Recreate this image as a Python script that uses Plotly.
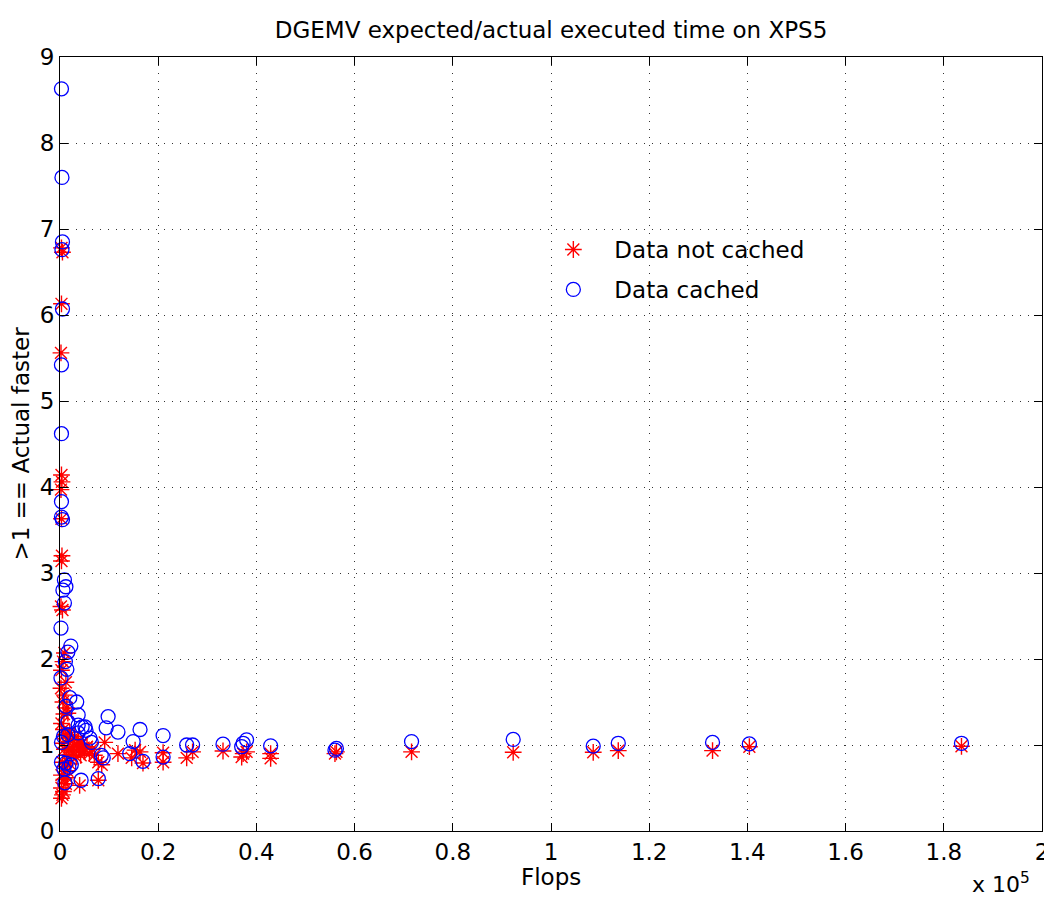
import plotly.graph_objects as go

# Data not cached (red stars): flops, ratio
nc_x = [300, 500, 300, 200, 300, 400, 200, 300, 400, 300, 200, 500,
        900, 600, 300, 1200, 200, 900, 600, 1400, 1600, 800,
        300, 700, 1100, 1500, 2000, 2500, 3000, 3500, 4000, 4500, 5000, 5500, 6000,
        1800, 2200, 2800, 3300, 600, 900, 1300, 2600, 3800, 4200, 4800, 6500, 7000,
        500, 1000, 1500, 2000, 300, 800, 1200, 300, 700, 500, 300, 1500,
        9100, 7800, 7800, 4000, 8500,
        11800, 14600, 15300, 16300, 16900, 21000, 21000, 25800, 27000, 33200,
        37000, 37300, 38000, 42900, 42900, 56000, 56300, 71600, 92300, 108600,
        113700, 132900, 140400, 183600]
nc_y = [6.78, 6.73, 6.13, 5.56, 4.14, 4.06, 3.97, 3.63, 3.20, 3.14, 2.61, 2.57,
        2.07, 1.97, 1.87, 1.73, 1.66, 1.58, 1.50, 1.43, 1.37, 1.36,
        1.25, 1.18, 1.12, 1.08, 1.15, 1.05, 1.10, 1.00, 0.95, 1.02, 0.92, 0.98, 0.90,
        0.95, 0.88, 0.92, 0.86, 1.02, 0.95, 0.88, 0.98, 1.06, 0.88, 0.97, 0.95, 0.88,
        0.80, 0.75, 0.70, 0.78, 0.65, 0.60, 0.55, 0.50, 0.46, 0.42, 0.38, 0.62,
        1.03, 0.80, 0.59, 0.53, 0.77,
        0.90, 0.85, 0.94, 0.92, 0.79, 0.91, 0.80, 0.85, 0.92, 0.93,
        0.86, 0.90, 0.92, 0.90, 0.845, 0.90, 0.92, 0.92, 0.915, 0.915,
        0.935, 0.935, 0.98, 0.985]

# Data cached (blue circles): flops, ratio
c_x = [300, 400, 500, 400, 500, 300, 300, 300, 300, 500, 900, 1200, 600, 900, 200,
       2200, 1600, 1100, 1400, 200, 2000, 3400, 1200, 3700, 9800, 9400, 5100, 5300,
       3700, 3700, 1600, 1600, 700, 6400, 6100, 4500,
       300, 1200, 2300, 800, 1800, 300, 1000, 4300, 8400, 8800, 7800,
       11800, 16300, 14900, 14200, 16900, 21000, 21000, 25800, 27000, 33200,
       37000, 37300, 38000, 42900, 56000, 56300, 71600, 92300, 108600, 113700,
       132900, 140400, 183600]
c_y = [8.63, 7.60, 6.85, 6.76, 6.07, 5.42, 4.62, 3.83, 3.65, 3.62, 2.92, 2.84, 2.80, 2.65, 2.36,
       2.15, 2.08, 1.97, 1.88, 1.78, 1.55, 1.50, 1.45, 1.35, 1.33, 1.20, 1.21, 1.17,
       1.23, 1.14, 1.27, 1.12, 1.10, 1.03, 1.08, 1.21,
       0.80, 0.79, 0.77, 0.72, 0.74, 1.03, 0.56, 0.59, 0.88, 0.85, 0.61,
       1.15, 1.18, 1.04, 0.90, 0.81, 1.11, 0.86, 1.00, 1.00, 1.01,
       0.98, 1.02, 1.06, 0.99, 0.94, 0.96, 1.04, 1.065, 0.987, 1.02,
       1.03, 1.013, 1.02]

x_tickvals = [0, 20000, 40000, 60000, 80000, 100000, 120000, 140000, 160000, 180000, 200000]
x_ticktext = ["0", "0.2", "0.4", "0.6", "0.8", "1", "1.2", "1.4", "1.6", "1.8", "2"]
y_tickvals = [0, 1, 2, 3, 4, 5, 6, 7, 8, 9]

FONT = "DejaVu Sans, sans-serif"
FS = 23

fig = go.Figure()
fig.add_trace(go.Scatter(
    x=nc_x, y=nc_y, mode="markers", name="Data not cached", legendgroup="nc",
    marker=dict(symbol="asterisk-open", size=14, color="red",
                line=dict(color="red", width=1.4)),
    cliponaxis=False))
fig.add_trace(go.Scatter(
    x=c_x, y=c_y, mode="markers", name="Data cached", legendgroup="c",
    marker=dict(symbol="circle-open", size=14, color="blue",
                line=dict(color="blue", width=1.3)),
    cliponaxis=False))

axis_common = dict(
    showline=True, linecolor="black", linewidth=1, mirror="ticks",
    ticks="inside", ticklen=8, tickcolor="black", automargin=False,
    showgrid=True, gridcolor="#333333", griddash="1px,7px", gridwidth=1,
    zeroline=False, tickfont=dict(family=FONT, size=FS, color="black"),
)

# The page body adds an 8px offset, so the figure is 8px smaller on each side.
fig.update_layout(
    width=1044, height=897,
    paper_bgcolor="white", plot_bgcolor="white",
    margin=dict(l=52, r=10, t=49, b=74),
    font=dict(family=FONT, color="black"),
    title=dict(text="DGEMV expected/actual executed time on XPS5",
               x=0.5, xref="paper", xanchor="center", y=0.975, yanchor="middle",
               font=dict(family=FONT, size=FS, color="black")),
    xaxis=dict(range=[0, 200000], tickvals=x_tickvals, ticktext=x_ticktext,
               **axis_common),
    yaxis=dict(range=[0, 9], tickvals=y_tickvals,
               title=dict(text=">1 == Actual faster", font=dict(family=FONT, size=FS), standoff=8),
               **axis_common),
    legend=dict(x=0.481, y=0.779, xanchor="left", yanchor="top",
                bgcolor="rgba(255,255,255,0)", borderwidth=0,
                font=dict(family=FONT, size=FS, color="black"),
                itemwidth=72, tracegroupgap=7),
    showlegend=True,
)

fig.add_annotation(
    text="Flops", xref="paper", yref="paper", x=0.5, y=-0.059,
    xanchor="center", yanchor="middle", showarrow=False,
    font=dict(family=FONT, size=FS, color="black"))

fig.add_annotation(
    text="x 10<sup>5</sup>", xref="paper", yref="paper", x=0.99, y=-0.046,
    xanchor="right", yanchor="top", showarrow=False,
    font=dict(family=FONT, size=22, color="black"))

fig.write_html("out.html")
